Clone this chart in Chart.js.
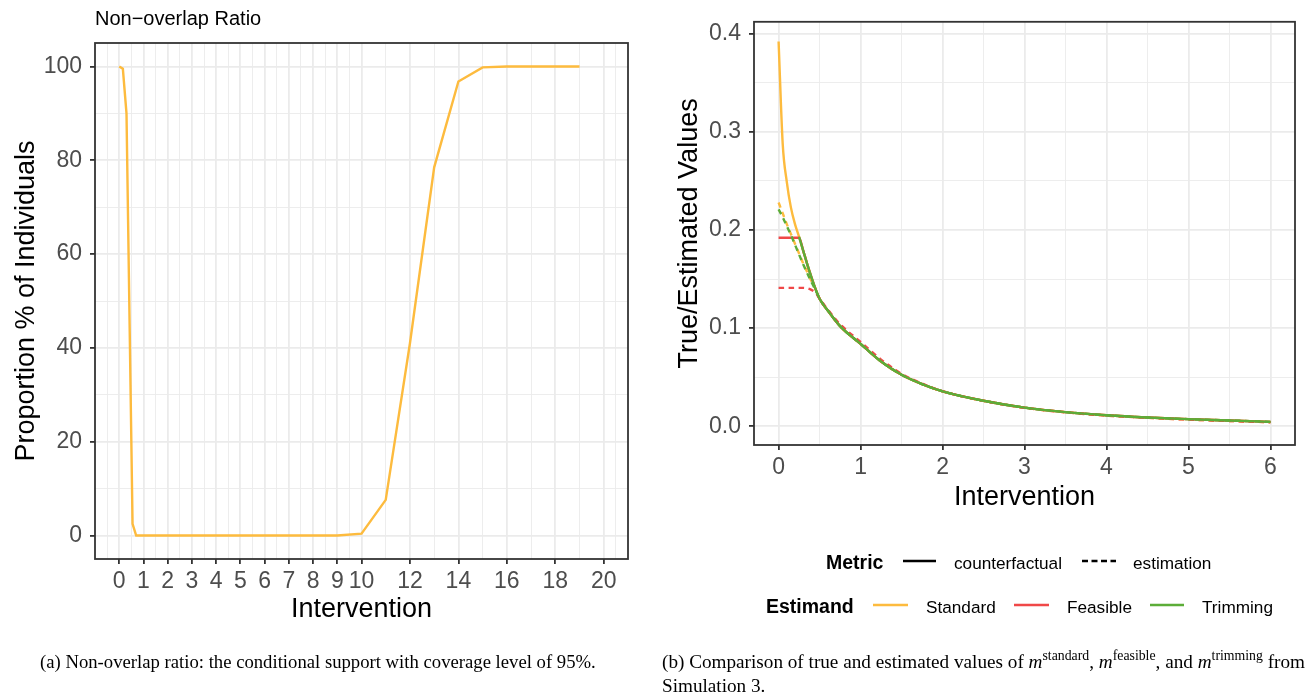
<!DOCTYPE html>
<html>
<head>
<meta charset="utf-8">
<script src="https://cdn.jsdelivr.net/npm/chart.js@4.4.0/dist/chart.umd.min.js"></script>
<style>
  html, body { margin: 0; padding: 0; background: #fff; }
  body { width: 1313px; height: 699px; position: relative; overflow: hidden; }
  canvas { position: absolute; top: 0; }
  #overlapChart { left: 0; }
  #estimandChart { left: 650px; }
  svg { position: absolute; left: 0; top: 0; }
  .sans { font-family: 'Liberation Sans', Arial, sans-serif; }
  .serif { font-family: 'Liberation Serif', 'Times New Roman', serif; }
</style>
</head>
<body>
<canvas id="overlapChart" width="650" height="640"></canvas>
<canvas id="estimandChart" width="663" height="530"></canvas>
<svg width="1313" height="699">
  <text class="sans" x="95" y="25" font-size="20" fill="#000">Non−overlap Ratio</text>

  <text class="sans" x="826" y="569" font-size="19.5" font-weight="bold">Metric</text>
  <line x1="903" y1="561" x2="936" y2="561" stroke="#000" stroke-width="2.5"/>
  <text class="sans" x="954" y="569" font-size="17.2">counterfactual</text>
  <line x1="1082" y1="561" x2="1116" y2="561" stroke="#000" stroke-width="2.5" stroke-dasharray="6 3.5"/>
  <text class="sans" x="1133" y="569" font-size="17.2">estimation</text>

  <text class="sans" x="766" y="613" font-size="19.5" font-weight="bold">Estimand</text>
  <line x1="873" y1="605" x2="908" y2="605" stroke="#FDBB3E" stroke-width="2.5"/>
  <text class="sans" x="926" y="613" font-size="17.2">Standard</text>
  <line x1="1014" y1="605" x2="1049" y2="605" stroke="#F04848" stroke-width="2.5"/>
  <text class="sans" x="1067" y="613" font-size="17.2">Feasible</text>
  <line x1="1150" y1="605" x2="1184" y2="605" stroke="#5CAD38" stroke-width="2.5"/>
  <text class="sans" x="1202" y="613" font-size="17.2">Trimming</text>

  <text class="serif" x="40" y="668" font-size="18.7">(a) Non-overlap ratio: the conditional support with coverage level of 95%.</text>
  <text class="serif" x="662" y="668" font-size="19.2">(b) Comparison of true and estimated values of <tspan font-style="italic">m</tspan><tspan dy="-8" font-size="13.8">standard</tspan><tspan dy="8">, </tspan><tspan font-style="italic">m</tspan><tspan dy="-8" font-size="13.8">feasible</tspan><tspan dy="8">, and </tspan><tspan font-style="italic">m</tspan><tspan dy="-8" font-size="13.8">trimming</tspan><tspan dy="8"> from</tspan></text>
  <text class="serif" x="662" y="692" font-size="19.2">Simulation 3.</text>
</svg>
<script>
// (a) non-overlap ratio
const overlapX = [0, 0.15, 0.3, 0.4, 0.5, 0.55, 0.7, 1, 2, 3, 4, 5, 6, 7, 8, 9, 10, 11, 12, 13, 14, 15, 16, 17, 18, 19];
const overlapY = [100, 99.5, 90, 55, 20, 2.5, 0, 0, 0, 0, 0, 0, 0, 0, 0, 0, 0.4, 7.6, 41, 78.5, 96.8, 99.8, 100, 100, 100, 100];
const overlapXMajor = [0, 1, 2, 3, 4, 5, 6, 7, 8, 9, 10, 12, 14, 16, 18, 20];
const overlapXMinor = [-0.5, 0.5, 1.5, 2.5, 3.5, 4.5, 5.5, 6.5, 7.5, 8.5, 9.5, 11, 13, 15, 17, 19, 20.5];
const overlapYMajor = [0, 20, 40, 60, 80, 100];
const overlapYMinor = [10, 30, 50, 70, 90];

// (b) true vs estimated values
const interventionX = [0, 0.05, 0.1, 0.15, 0.2, 0.25, 0.3, 0.35, 0.4, 0.45, 0.5, 0.6, 0.75, 1, 1.25, 1.5, 1.75, 2, 2.5, 3, 3.5, 4, 4.5, 5, 5.5, 6];
const standardCf = [0.392, 0.288, 0.249, 0.223, 0.206, 0.193, 0.179, 0.165, 0.152, 0.140, 0.130, 0.118, 0.102, 0.084, 0.066, 0.0525, 0.043, 0.0357, 0.0261, 0.0191, 0.0145, 0.0113, 0.0090, 0.0073, 0.0060, 0.0046];
const standardEst = [0.228, 0.217, 0.206, 0.196, 0.186, 0.176, 0.166, 0.157, 0.148, 0.140, 0.130, 0.118, 0.102, 0.084, 0.066, 0.0525, 0.043, 0.0356, 0.0259, 0.0189, 0.0143, 0.0110, 0.0087, 0.0069, 0.0055, 0.0041];
const feasibleCf = [0.192, 0.192, 0.192, 0.192, 0.192, 0.192, 0.179, 0.165, 0.152, 0.140, 0.130, 0.118, 0.102, 0.084, 0.066, 0.0525, 0.043, 0.0357, 0.0261, 0.0191, 0.0145, 0.0113, 0.0090, 0.0073, 0.0060, 0.0046];
const feasibleEst = [0.141, 0.141, 0.141, 0.141, 0.141, 0.141, 0.141, 0.1405, 0.139, 0.136, 0.130, 0.119, 0.104, 0.086, 0.068, 0.0535, 0.0435, 0.0358, 0.0260, 0.0189, 0.0143, 0.0110, 0.0087, 0.0069, 0.0055, 0.0041];
const trimmingCf = [null, null, null, null, null, 0.193, 0.179, 0.165, 0.152, 0.140, 0.130, 0.118, 0.102, 0.084, 0.066, 0.0525, 0.043, 0.0357, 0.0261, 0.0191, 0.0145, 0.0113, 0.0090, 0.0073, 0.0060, 0.0046];
const trimmingEst = [0.221, 0.213, 0.204, 0.195, 0.185, 0.175, 0.165, 0.156, 0.147, 0.139, 0.130, 0.118, 0.102, 0.084, 0.066, 0.0525, 0.043, 0.0357, 0.0261, 0.0191, 0.0145, 0.0113, 0.0090, 0.0073, 0.0060, 0.0046];
const estXMajor = [0, 1, 2, 3, 4, 5, 6];
const estXMinor = [0.5, 1.5, 2.5, 3.5, 4.5, 5.5];
const estYMajor = [0, 0.1, 0.2, 0.3, 0.4];
const estYMinor = [0.05, 0.15, 0.25, 0.35];

const ORANGE = '#FDBB3E', RED = '#F04848', GREEN = '#5CAD38';

Chart.defaults.font.family = "'Liberation Sans', Arial, sans-serif";

const isIn = (list, v) => list.some(m => Math.abs(m - v) < 1e-9);

// ggplot-like axis with major + minor grid lines
function makeAxis(major, minor, min, max, fmt, fit, title) {
  return {
    type: 'linear',
    min: min,
    max: max,
    afterBuildTicks: s => {
      s.ticks = major.concat(minor).sort((a, b) => a - b).map(v => ({ value: v }));
    },
    afterFit: fit,
    ticks: {
      autoSkip: false,
      maxRotation: 0,
      padding: title.tickPad,
      color: '#4D4D4D',
      font: { size: 23 },
      callback: v => isIn(major, v) ? fmt(v) : ''
    },
    grid: {
      color: '#EBEBEB',
      lineWidth: ctx => (ctx.tick && isIn(major, ctx.tick.value)) ? 1.8 : 0.9,
      tickLength: 5,
      tickWidth: 1.8,
      tickColor: ctx => (ctx.tick && isIn(major, ctx.tick.value)) ? '#333333' : 'rgba(0,0,0,0)'
    },
    border: { display: false },
    title: {
      display: true,
      text: title.text,
      color: '#000',
      font: { size: 27 },
      padding: title.pad
    }
  };
}

const panelBorder = {
  id: 'panelBorder',
  afterDatasetsDraw(chart) {
    const { ctx, chartArea: a } = chart;
    ctx.save();
    ctx.strokeStyle = '#333333';
    ctx.lineWidth = 1.8;
    ctx.strokeRect(a.left, a.top, a.right - a.left, a.bottom - a.top);
    ctx.restore();
  }
};

function series(ys) {
  return interventionX.map((x, i) => ({ x: x, y: ys[i] }));
}

function lineSet(label, ys, color, dashed) {
  return {
    label: label,
    data: series(ys),
    borderColor: color,
    borderWidth: 2.4,
    borderDash: dashed ? [5.5, 4.5] : [],
    pointRadius: 0,
    cubicInterpolationMode: 'monotone',
    spanGaps: false
  };
}

const commonOptions = {
  responsive: false,
  animation: false,
  plugins: { legend: { display: false }, tooltip: { enabled: false } }
};

// (a) Non-overlap ratio
new Chart(document.getElementById('overlapChart').getContext('2d'), {
  type: 'line',
  data: {
    datasets: [{
      label: 'Non-overlap',
      data: overlapX.map((x, i) => ({ x: x, y: overlapY[i] })),
      borderColor: ORANGE,
      borderWidth: 2.4,
      pointRadius: 0,
      tension: 0
    }]
  },
  options: Object.assign({}, commonOptions, {
    layout: { padding: { left: 0, top: 43, right: 22, bottom: 0 } },
    scales: {
      x: makeAxis(overlapXMajor, overlapXMinor, -1, 21, v => String(v), s => { s.height = 81; },
        { text: 'Intervention', tickPad: 4, pad: { top: 0, bottom: 14 } }),
      y: makeAxis(overlapYMajor, overlapYMinor, -5, 105, v => String(v), s => { s.width = 95; },
        { text: 'Proportion % of Individuals', tickPad: 8, pad: { top: 10, bottom: 0 } })
    }
  }),
  plugins: [panelBorder]
});

// (b) true vs estimated values
new Chart(document.getElementById('estimandChart').getContext('2d'), {
  type: 'line',
  data: {
    datasets: [
      lineSet('Trimming counterfactual', trimmingCf, GREEN, false),
      lineSet('Trimming estimation', trimmingEst, GREEN, true),
      lineSet('Feasible counterfactual', feasibleCf, RED, false),
      lineSet('Feasible estimation', feasibleEst, RED, true),
      lineSet('Standard counterfactual', standardCf, ORANGE, false),
      lineSet('Standard estimation', standardEst, ORANGE, true)
    ]
  },
  options: Object.assign({}, commonOptions, {
    layout: { padding: { left: 0, top: 11, right: 18, bottom: 0 } },
    scales: {
      x: makeAxis(estXMajor, estXMinor, -0.3, 6.3, v => String(v), s => { s.height = 85; },
        { text: 'Intervention', tickPad: 4, pad: { top: 0, bottom: 16 } }),
      y: makeAxis(estYMajor, estYMinor, -0.019, 0.412, v => v.toFixed(1), s => { s.width = 104; },
        { text: 'True/Estimated Values', tickPad: 8, pad: { top: 23, bottom: 0 } })
    }
  }),
  plugins: [panelBorder]
});
</script>
</body>
</html>
